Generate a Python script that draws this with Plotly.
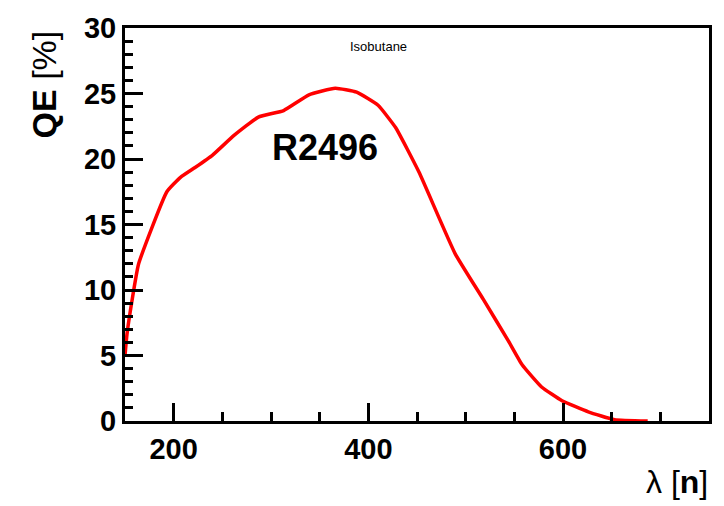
import plotly.graph_objects as go

# Quantum efficiency of the R2496 photocathode versus wavelength
wavelength_nm = [150, 152, 157, 164, 193, 207, 222, 240, 262, 287, 313, 339, 366,
                 388, 410, 428, 452, 489, 518, 544, 558, 578, 599, 626, 653, 687]
qe_percent = [5.0, 6.6, 9.1, 12.0, 17.5, 18.6, 19.35, 20.3, 21.8, 23.2, 23.7, 24.9, 25.4,
              25.1, 24.1, 22.4, 19.0, 12.8, 9.3, 6.1, 4.3, 2.6, 1.55, 0.7, 0.1, 0.0]

x_range = [150, 750]
y_range = [0, 30]
x_major = [200, 400, 600]
y_major = [0, 5, 10, 15, 20, 25, 30]

FONT = "Liberation Sans, Arial, Helvetica, sans-serif"

fig = go.Figure()
fig.add_trace(go.Scatter(
    x=wavelength_nm, y=qe_percent, mode="lines",
    line=dict(color="#ff0000", width=3.5, shape="spline", smoothing=0.4),
    showlegend=False, hoverinfo="skip",
))

axis_common = dict(
    showline=True, linecolor="black", linewidth=3, mirror=True,
    ticks="inside", tickcolor="black", tickwidth=2.5,
    showgrid=False, zeroline=False,
    tickfont=dict(family=FONT, size=29, color="black", weight="bold"),
)

fig.update_xaxes(
    range=x_range, tickmode="array", tickvals=x_major, ticklen=18,
    ticklabelstandoff=0,
    minor=dict(ticks="inside", dtick=50, tick0=150, ticklen=9, tickwidth=2.5,
               tickcolor="black", showgrid=False),
    **axis_common,
)
fig.update_yaxes(
    range=y_range, tickmode="array", tickvals=y_major, ticklen=18,
    ticklabelstandoff=0,
    minor=dict(ticks="inside", dtick=1, tick0=0, ticklen=8, tickwidth=2.5,
               tickcolor="black", showgrid=False),
    **axis_common,
)

fig.update_layout(
    width=724, height=506,
    margin=dict(l=125, r=14, t=21, b=85),
    paper_bgcolor="white", plot_bgcolor="white",
    font=dict(family=FONT, color="black"),
    annotations=[
        dict(text="<b>QE</b> [%]", xref="paper", yref="paper", x=-0.138, y=1.0,
             xanchor="center", yanchor="top", textangle=-90, showarrow=False,
             font=dict(family=FONT, size=34, color="black")),
        dict(text="λ [<b>n</b>]", xref="paper", yref="paper", x=1.002, y=-0.205,
             xanchor="right", yanchor="bottom", showarrow=False,
             font=dict(family=FONT, size=32, color="black")),
        dict(text="R2496", x=355, y=20.9, xref="x", yref="y",
             xanchor="center", yanchor="middle", showarrow=False,
             font=dict(family=FONT, size=36, color="black", weight="bold")),
        dict(text="Isobutane", x=410.5, y=28.6, xref="x", yref="y",
             xanchor="center", yanchor="middle", showarrow=False,
             font=dict(family=FONT, size=13, color="black")),
    ],
)

fig.write_html("out.html")
